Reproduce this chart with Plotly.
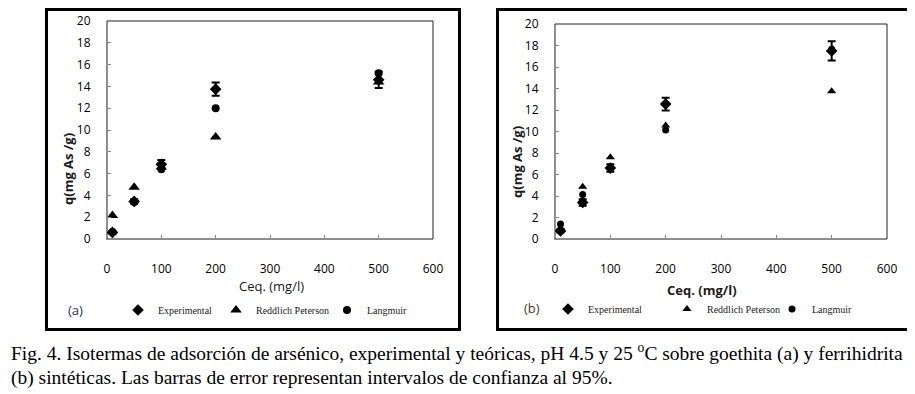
import plotly.graph_objects as go

# ---------------- data ----------------
ceq = [10, 50, 100, 200, 500]

exp_a = [0.6, 3.45, 6.85, 13.75, 14.6]
err_a = [0.1, 0.2, 0.4, 0.6, 0.75]
rp_a = [2.15, 4.75, 6.6, 9.35, 14.4]
lang_a = [0.65, 3.4, 6.4, 12.0, 15.2]

exp_b = [0.75, 3.4, 6.6, 12.55, 17.5]
err_b = [0.15, 0.3, 0.35, 0.6, 0.9]
rp_b = [1.05, 4.85, 7.6, 10.55, 13.75]
lang_b = [1.4, 4.15, 6.6, 10.15, 17.65]

series_names = ["Experimental", "Reddlich Peterson", "Langmuir"]
x_ticks = [0, 100, 200, 300, 400, 500, 600]
y_ticks = [0, 2, 4, 6, 8, 10, 12, 14, 16, 18, 20]

caption1 = ("Fig. 4. Isotermas de adsorción de arsénico, experimental y teóricas, "
            "pH 4.5 y 25 <sup>o</sup>C sobre goethita (a) y ferrihidrita")
caption2 = "(b) sintéticas. Las barras de error representan intervalos de confianza al 95%."

# ---------------- layout helpers ----------------
W, H = 915, 394
OFF = 8  # page body margin


def px(x):
    return (x - OFF) / W


def py(y):
    return 1 - (y - OFF) / H


fig = go.Figure()

panels = [
    dict(ax="", exp=exp_a, err=err_a, rp=rp_a, lang=lang_a,
         legends=["legend", "legend2", "legend3"], tri=10, circ=8),
    dict(ax="2", exp=exp_b, err=err_b, rp=rp_b, lang=lang_b,
         legends=["legend4", "legend5", "legend6"], tri=8, circ=7),
]

for p in panels:
    xa = "x" + p["ax"]
    ya = "y" + p["ax"]
    fig.add_trace(go.Scatter(
        x=ceq, y=p["rp"], mode="markers", name=series_names[1],
        marker=dict(symbol="triangle-up", size=p["tri"], color="black"),
        xaxis=xa, yaxis=ya, legend=p["legends"][1], showlegend=True))
    fig.add_trace(go.Scatter(
        x=ceq, y=p["lang"], mode="markers", name=series_names[2],
        marker=dict(symbol="circle", size=p["circ"], color="black"),
        xaxis=xa, yaxis=ya, legend=p["legends"][2], showlegend=True))
    fig.add_trace(go.Scatter(
        x=ceq, y=p["exp"], mode="markers", name=series_names[0],
        marker=dict(symbol="diamond", size=9, color="black"),
        error_y=dict(type="data", array=p["err"], visible=True,
                     color="black", thickness=2, width=4),
        xaxis=xa, yaxis=ya, legend=p["legends"][0], showlegend=True))

axis_common = dict(
    showgrid=False, zeroline=False, showline=True, automargin=False,
    linecolor="#8c8c8c", linewidth=1, ticks="inside", ticklen=4,
    tickcolor="#8c8c8c", tickfont=dict(family="Open Sans", size=12, color="#000000"),
)

dom_a_x = [px(107), px(433)]
dom_b_x = [px(555), px(887)]
dom_a_y = [py(239), py(21)]
dom_b_y = [py(239), py(24)]

fig.update_layout(
    width=W, height=H,
    margin=dict(l=0, r=0, t=0, b=0, pad=0, autoexpand=False),
    paper_bgcolor="white", plot_bgcolor="white", showlegend=True,
    xaxis=dict(axis_common, domain=dom_a_x, range=[0, 600], tickvals=x_ticks,
               anchor="y", ticklabelstandoff=19),
    yaxis=dict(axis_common, domain=dom_a_y, range=[0, 20], tickvals=y_ticks,
               anchor="x", ticklabelstandoff=13),
    xaxis2=dict(axis_common, domain=dom_b_x, range=[0, 600], tickvals=x_ticks,
                anchor="y2", ticklabelstandoff=19),
    yaxis2=dict(axis_common, domain=dom_b_y, range=[0, 20], tickvals=y_ticks,
                anchor="x2", ticklabelstandoff=13),
)

# legends (one item each, placed individually)
leg_font = dict(family="Liberation Serif", size=10, color="#1a1a1a")
leg_pos = {
    "legend": (138, 310), "legend2": (236, 310), "legend3": (347, 310),
    "legend4": (568, 309), "legend5": (687, 309), "legend6": (792, 309),
}
for name, (lx, ly) in leg_pos.items():
    fig.update_layout({name: dict(
        visible=True, x=px(lx - 20), y=py(ly), xanchor="left", yanchor="middle",
        bgcolor="rgba(0,0,0,0)", borderwidth=0, font=leg_font,
        orientation="h", itemclick=False, itemdoubleclick=False)})

# frames and plot-area borders
shapes = [
    dict(type="rect", xref="paper", yref="paper", x0=px(46.5), x1=px(459.5),
         y0=py(9.5), y1=py(329.5), line=dict(color="black", width=3)),
    dict(type="rect", xref="paper", yref="paper", x0=px(497.5), x1=px(909.5),
         y0=py(9.5), y1=py(329.5), line=dict(color="black", width=3)),
    dict(type="rect", xref="x domain", yref="y domain", x0=0, x1=1, y0=0, y1=1,
         line=dict(color="#222222", width=1), layer="below"),
    dict(type="rect", xref="x2 domain", yref="y2 domain", x0=0, x1=1, y0=0, y1=1,
         line=dict(color="#222222", width=1), layer="below"),
]
fig.update_layout(shapes=shapes)

title_font = dict(family="Open Sans", size=13, color="#1a1a1a")
annos = [
    dict(text="<b>q(mg As /g)</b>", x=px(68), y=py(169), textangle=-90),
    dict(text="Ceq. (mg/l)", x=px(271), y=py(286)),
    dict(text="<b>q(mg As /g)</b>", x=px(517), y=py(162), textangle=-90),
    dict(text="<b>Ceq. (mg/l)</b>", x=px(702), y=py(290)),
]
for a in annos:
    fig.add_annotation(xref="paper", yref="paper", showarrow=False,
                       xanchor="center", yanchor="middle", font=title_font, **a)

fig.add_annotation(text="(a)", x=px(66), y=py(310), xref="paper", yref="paper",
                   showarrow=False, xanchor="left", yanchor="middle",
                   font=dict(family="Open Sans", size=13, color="#1f2f5a"))
fig.add_annotation(text="(b)", x=px(522), y=py(308), xref="paper", yref="paper",
                   showarrow=False, xanchor="left", yanchor="middle",
                   font=dict(family="Open Sans", size=13, color="#4a3a14"))

cap_font = dict(family="Liberation Serif", size=19.5, color="#000000")
fig.add_annotation(text=caption1, x=px(9), y=py(352), xref="paper", yref="paper",
                   showarrow=False, xanchor="left", yanchor="middle", font=cap_font)
fig.add_annotation(text=caption2, x=px(9), y=py(378), xref="paper", yref="paper",
                   showarrow=False, xanchor="left", yanchor="middle", font=cap_font)

fig.write_html("out.html")
